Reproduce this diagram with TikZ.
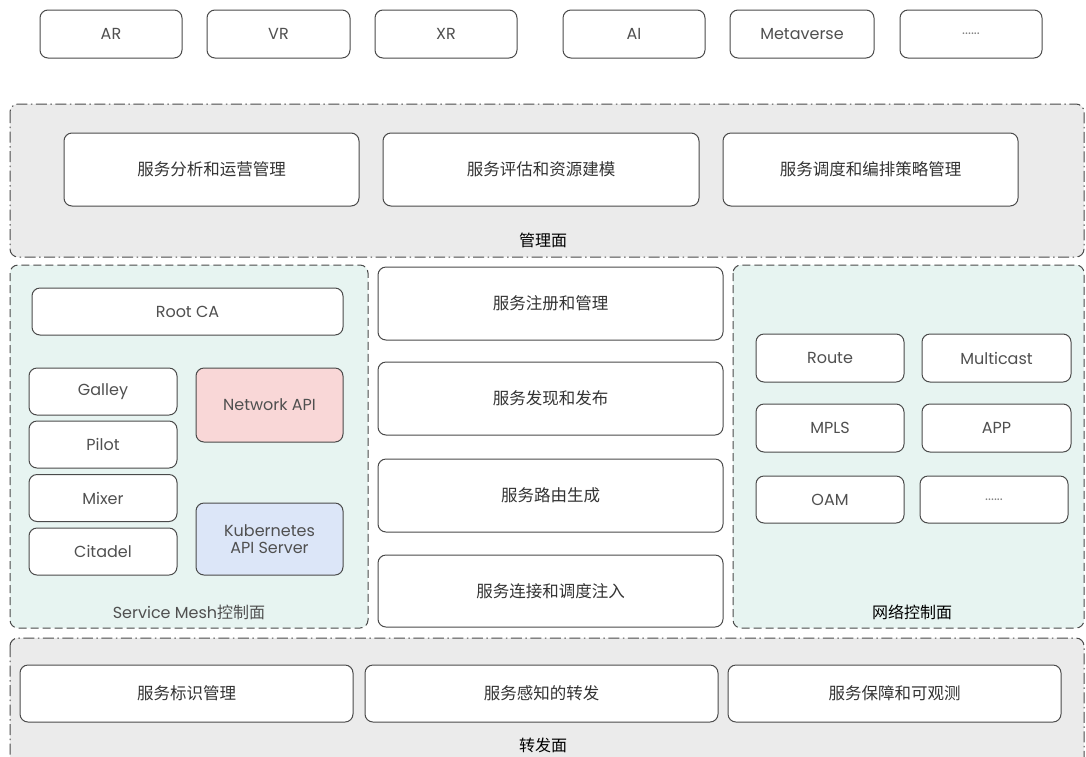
\documentclass[tikz,border=0pt]{standalone}
\usepackage{fontspec}
\setmainfont{Poppins}
\newfontfamily\cjk{Noto Sans CJK SC}
\definecolor{planegray}{HTML}{EBEBEB}
\definecolor{teal}{HTML}{E7F4F1}
\definecolor{pinkfill}{HTML}{F9D7D7}
\definecolor{bluefill}{HTML}{DCE6F8}
\definecolor{edge}{HTML}{4A4A4A}
\definecolor{txt}{HTML}{505050}
\begin{document}
\begin{tikzpicture}[x=1pt,y=-1pt,
  box/.style={draw=edge, line width=1pt, rounded corners=8pt, fill=white, inner sep=0pt, text=txt, align=center},
  lat/.style={font=\fontsize{16}{18}\selectfont},
  cn/.style={font=\cjk\fontsize{16.5}{19}\selectfont, text=black!80},
  dots/.style={font=\fontsize{14}{16}\selectfont, text=black!50},
  plane/.style={draw=edge, line width=1pt, rounded corners=8pt, fill=planegray, dash pattern=on 11pt off 3.5pt on 1.5pt off 3.5pt},
  ctrl/.style={draw=edge, line width=1pt, rounded corners=8pt, fill=teal, dash pattern=on 8pt off 4pt},
  lbl/.style={font=\cjk\fontsize{16}{19}\selectfont, text=black, inner sep=0pt}
]
\useasboundingbox (0,0) rectangle (1086,756);
\fill[white] (0,0) rectangle (1086,756);
\begin{scope}
\clip (0,0) rectangle (1086,756);
% top row
\node[box, lat, minimum width=142pt, minimum height=48pt] (ar) at (111,34) {AR};
\node[box, lat, minimum width=143pt, minimum height=48pt] (vr) at (278.5,34) {VR};
\node[box, lat, minimum width=142pt, minimum height=48pt] (xr) at (446,34) {XR};
\node[box, lat, minimum width=142pt, minimum height=48pt] (ai) at (634,34) {AI};
\node[box, lat, minimum width=144pt, minimum height=48pt] (meta) at (802,34) {Metaverse};
\node[box, dots, minimum width=142pt, minimum height=48pt] (etc1) at (971,34) {......};

% management plane
\draw[plane] (10,104) rectangle (1084,257);
\node[lbl] (mgmt) at (543,240) {管理面};
\node[box, cn, minimum width=295pt, minimum height=73pt] (m1) at (211.5,169.5) {服务分析和运营管理};
\node[box, cn, minimum width=316pt, minimum height=73pt] (m2) at (541,169.5) {服务评估和资源建模};
\node[box, cn, minimum width=295pt, minimum height=73pt] (m3) at (870.5,169.5) {服务调度和编排策略管理};

% service mesh control plane
\draw[ctrl] (10,265) rectangle (368,628);
\node[box, lat, minimum width=311pt, minimum height=47pt] (rootca) at (187.5,311.5) {Root CA};
\node[box, lat, minimum width=148pt, minimum height=47pt] (galley) at (103,391.5) {Galley};
\node[box, lat, minimum width=148pt, minimum height=47pt] (pilot) at (103,444.5) {Pilot};
\node[box, lat, minimum width=148pt, minimum height=47pt] (mixer) at (103,498) {Mixer};
\node[box, lat, minimum width=148pt, minimum height=47pt] (citadel) at (103,551.5) {Citadel};
\node[box, lat, fill=pinkfill, minimum width=147pt, minimum height=74pt] (netapi) at (269.5,405) {Network API};
\node[box, fill=bluefill, minimum width=147pt, minimum height=72pt, font=\fontsize{16}{17}\selectfont] (k8s) at (269.5,539) {Kubernetes\\API Server};
\node[lbl, text=txt] (smlbl) at (189,612) {{\fontsize{16}{19}\selectfont\rmfamily Service Mesh}控制面};

% middle column
\node[box, cn, minimum width=345pt, minimum height=73pt] (c1) at (550.5,303.5) {服务注册和管理};
\node[box, cn, minimum width=345pt, minimum height=73pt] (c2) at (550.5,398.5) {服务发现和发布};
\node[box, cn, minimum width=345pt, minimum height=73pt] (c3) at (550.5,495.5) {服务路由生成};
\node[box, cn, minimum width=345pt, minimum height=72pt] (c4) at (550.5,591) {服务连接和调度注入};

% network control plane
\draw[ctrl] (733,265) rectangle (1084,628);
\node[box, lat, minimum width=148pt, minimum height=48pt] (route) at (830,358) {Route};
\node[box, lat, minimum width=149pt, minimum height=48pt] (mcast) at (996.5,358) {Multicast};
\node[box, lat, minimum width=148pt, minimum height=48pt] (mpls) at (830,428) {MPLS};
\node[box, lat, minimum width=149pt, minimum height=48pt] (app) at (996.5,428) {APP};
\node[box, lat, minimum width=148pt, minimum height=47pt] (oam) at (830,499.5) {OAM};
\node[box, dots, minimum width=148pt, minimum height=47pt] (etc2) at (994,499.5) {......};
\node[lbl] (netlbl) at (912,612) {网络控制面};

% forwarding plane
\draw[plane] (10,638) rectangle (1084,775);
\node[box, cn, minimum width=333pt, minimum height=57pt] (f1) at (186.5,693.5) {服务标识管理};
\node[box, cn, minimum width=353pt, minimum height=57pt] (f2) at (541.5,693.5) {服务感知的转发};
\node[box, cn, minimum width=333pt, minimum height=57pt] (f3) at (894.5,693.5) {服务保障和可观测};
\node[lbl] (fwd) at (543,745) {转发面};
\end{scope}
\end{tikzpicture}
\end{document}
